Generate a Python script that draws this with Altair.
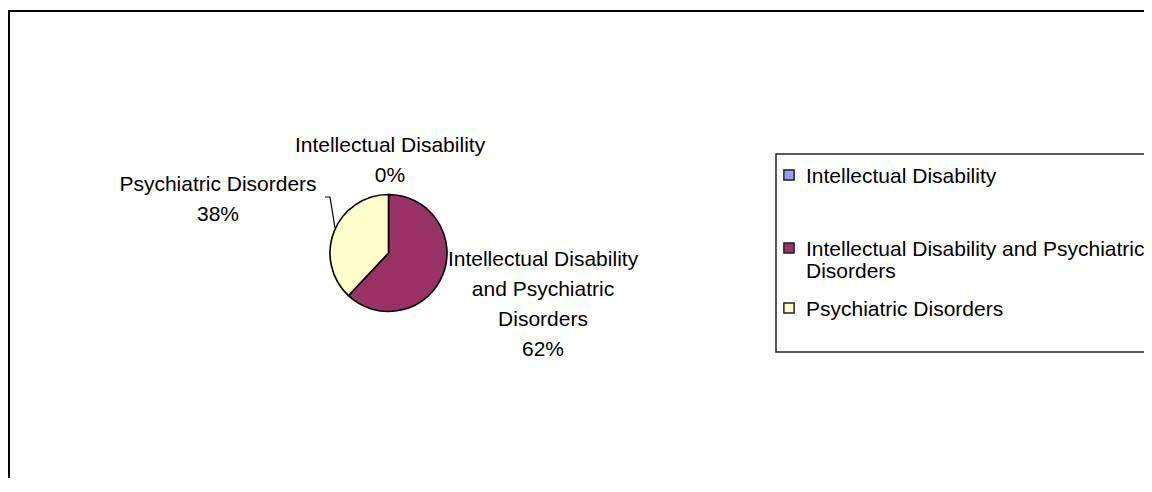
import altair as alt
import pandas as pd

# ---- data ----
categories = ["Intellectual Disability",
              "Intellectual Disability and Psychiatric Disorders",
              "Psychiatric Disorders"]
values = [0, 62, 38]
colors = ["#9999FF", "#993366", "#FFFFCC"]
pie_label_text = ["Intellectual Disability",
                  "Intellectual Disability\nand Psychiatric\nDisorders",
                  "Psychiatric Disorders"]
legend_label_text = ["Intellectual Disability",
                     "Intellectual Disability and Psychiatric\nDisorders",
                     "Psychiatric Disorders"]

# ---- layout (pixels) ----
W, H = 1136, 470
FONT = "Liberation Sans"
FS = 21
pie_cx, pie_cy, pie_r = 380.5, 245, 58.5
pie_label_x = [382, 535, 210]
pie_label_y = [143.5, 257.5, 182.5]
legend_sq_x = 781
legend_text_x = 798
legend_y = [167, 240, 300]
leader_x = [317, 322, 327]
leader_y = [189, 189, 220]

sx = alt.Scale(domain=[0, W], range=[0, W])
sy = alt.Scale(domain=[0, H], range=[0, H])

df = pd.DataFrame({
    "category": categories,
    "value": values,
    "idx": list(range(len(categories))),
})
df["label"] = [f"{t}\n{v}%" for t, v in zip(pie_label_text, values)]
df["lx"] = pie_label_x
df["ly"] = pie_label_y
df["legend_label"] = legend_label_text
df["gy"] = legend_y
df["gty"] = [y + 7.5 for y in legend_y]

one = pd.DataFrame({"a": [0]})

border_top = alt.Chart(one).mark_rule(color="black", strokeWidth=2).encode(
    x=alt.value(0), x2=alt.value(W), y=alt.value(3))
border_left = alt.Chart(one).mark_rule(color="black", strokeWidth=2).encode(
    x=alt.value(1), y=alt.value(3), y2=alt.value(H))

legend_box = alt.Chart(one).mark_rect(fill="white", stroke="#222222", strokeWidth=1.5).encode(
    x=alt.value(768), x2=alt.value(W + 20), y=alt.value(146), y2=alt.value(344))

pie = alt.Chart(df).mark_arc(radius=pie_r, stroke="black", strokeWidth=1.6).encode(
    theta=alt.Theta("value:Q", stack=True),
    color=alt.Color("category:N", scale=alt.Scale(domain=categories, range=colors), legend=None),
    order=alt.Order("idx:Q"),
    x=alt.value(pie_cx), y=alt.value(pie_cy),
)

labels = alt.Chart(df).mark_text(
    font=FONT, fontSize=FS, align="center", baseline="alphabetic",
    lineBreak="\n", lineHeight=30, color="black",
).encode(
    x=alt.X("lx:Q", scale=sx, axis=None),
    y=alt.Y("ly:Q", scale=sy, axis=None),
    text="label:N",
)

leader = alt.Chart(pd.DataFrame({"x": leader_x, "y": leader_y, "o": [0, 1, 2]})).mark_line(
    color="black", strokeWidth=1.2).encode(
    x=alt.X("x:Q", scale=sx, axis=None),
    y=alt.Y("y:Q", scale=sy, axis=None),
    order="o:Q",
)

legend_sq = alt.Chart(df).mark_square(size=105, stroke="#222222", strokeWidth=1.5, opacity=1).encode(
    x=alt.value(legend_sq_x),
    y=alt.Y("gy:Q", scale=sy, axis=None),
    fill=alt.Fill("category:N", scale=alt.Scale(domain=categories, range=colors), legend=None),
)

legend_txt = alt.Chart(df).mark_text(
    font=FONT, fontSize=FS, align="left", baseline="alphabetic",
    lineBreak="\n", lineHeight=22, color="black",
).encode(
    x=alt.value(legend_text_x),
    y=alt.Y("gty:Q", scale=sy, axis=None),
    text="legend_label:N",
)

chart = alt.layer(
    border_top, border_left, legend_box, pie, leader, labels, legend_sq, legend_txt
).properties(
    width=W, height=H, padding=0, autosize=alt.AutoSizeParams(type="none"),
    background="white",
).configure_view(stroke=None)

chart.save("out.html", embed_options={"renderer": "svg", "actions": False})
